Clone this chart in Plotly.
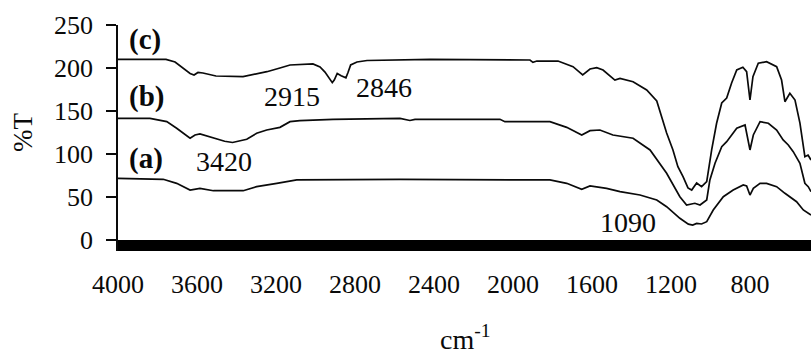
import plotly.graph_objects as go

# FTIR transmittance spectra, curves (a), (b), (c) offset vertically
wn_a = [4000, 3771, 3703, 3635, 3585, 3517, 3366, 3298, 3196, 3095, 2572, 1813, 1728,
        1652, 1610, 1526, 1458, 1357, 1272, 1222, 1155, 1112, 1090, 1070, 1045, 1019,
        986, 935, 885, 834, 817, 800, 783, 749, 716, 665, 623, 598, 564, 530, 491]
t_a = [71.7, 70.6, 65.9, 58.1, 60.1, 57.3, 57.3, 62.0, 65.9, 69.8, 70.6, 69.8, 65.9,
       59.0, 62.8, 60.1, 56.2, 52.3, 46.5, 38.7, 25.2, 18.5, 17.4, 19.2, 18.6, 21.3,
       34.9, 50.3, 58.1, 64.0, 62.8, 52.3, 60.1, 65.9, 65.9, 62.0, 54.3, 50.3, 44.5, 34.9, 29.1]

wn_b = [4000, 3838, 3753, 3703, 3635, 3610, 3585, 3519, 3460, 3420, 3348, 3298, 3247,
        3180, 3129, 3079, 2911, 2572, 2522, 2496, 2066, 2041, 1813, 1728, 1652, 1610,
        1560, 1494, 1392, 1306, 1222, 1155, 1121, 1079, 1053, 1019, 1003, 977, 943, 918,
        867, 825, 800, 783, 749, 707, 665, 632, 606, 581, 547, 522, 505, 491]
t_b = [141.5, 141.5, 137.6, 129.9, 118.3, 122.1, 123.3, 119.2, 114.8, 113.4, 117.1, 124.1, 127.9,
       131.0, 137.6, 138.7, 140.3, 141.5, 139.0, 140.3, 140.3, 137.6, 137.6, 131.0, 122.1, 127.1,
       127.9, 122.1, 118.3, 104.7, 77.6, 50.3, 40.7, 42.7, 40.7, 46.5, 69.8, 89.2, 108.5, 114.3,
       129.9, 133.7, 104.7, 122.1, 137.6, 135.7, 127.9, 116.3, 110.5, 102.7, 89.2, 65.9, 62.0, 56.2]

wn_c = [4000, 3757, 3711, 3676, 3635, 3615, 3595, 3570, 3534, 3504, 3367, 3306, 3246,
        3180, 3129, 3013, 2977, 2952, 2930, 2915, 2905, 2890, 2870, 2855, 2846, 2835,
        2822, 2790, 2739, 2420, 1914, 1899, 1879, 1772, 1696, 1647, 1610, 1576, 1544,
        1484, 1458, 1392, 1323, 1272, 1241, 1222, 1190, 1165, 1139, 1114, 1095, 1070,
        1045, 1019, 994, 969, 943, 918, 893, 867, 836, 817, 800, 785, 758, 716, 665,
        640, 623, 598, 572, 547, 522, 506, 491]
t_c = [210.1, 210.0, 207.0, 201.2, 193.6, 191.9, 194.8, 194.2, 191.9, 190.7, 189.9, 193.0, 195.7,
       200.0, 203.5, 204.7, 201.2, 195.3, 188.0, 183.0, 186.0, 193.6, 191.0, 189.0, 188.5, 195.0,
       203.5, 207.0, 208.7, 210.1, 209.3, 206.6, 208.1, 208.1, 201.5, 191.9, 198.8, 200.3, 197.7,
       186.0, 188.0, 184.0, 174.4, 161.6, 139.5, 124.4, 104.7, 85.2, 73.6, 60.5, 58.1, 66.3,
       62.0, 67.8, 104.7, 135.7, 159.3, 165.1, 182.6, 197.7, 200.8, 195.7, 162.8, 189.9, 205.5,
       207.3, 201.5, 186.0, 160.8, 170.6, 162.8, 136.0, 96.9, 98.8, 93.0]

x_ticks = [4000, 3600, 3200, 2800, 2400, 2000, 1600, 1200, 800]
y_ticks = [0, 50, 100, 150, 200, 250]

# curve tags and band labels: (text, wavenumber, %T)
curve_tags = [("(c)", 3955, 233.7), ("(b)", 3955, 166.3), ("(a)", 3955, 94.2)]
band_labels = [("3420", 3463, 90.7), ("2915", 3119, 166.3),
               ("2846", 2653, 177.9), ("1090", 1418, 19.8)]

FONT = "Liberation Serif"
INK = "#0a0a0a"

fig = go.Figure()
for wn, t in [(wn_a, t_a), (wn_b, t_b), (wn_c, t_c)]:
    fig.add_trace(go.Scatter(x=wn, y=t, mode="lines",
                             line=dict(color=INK, width=1.7),
                             showlegend=False, hoverinfo="skip"))

# heavy baseline under the spectra
fig.add_shape(type="rect", xref="x domain", yref="y",
              x0=0, x1=1, y0=-12.8, y1=0,
              fillcolor="black", line=dict(width=0), layer="above")

for txt, xv, yv in curve_tags:
    fig.add_annotation(x=xv, y=yv, text="<b>" + txt + "</b>", showarrow=False,
                       xanchor="left", yanchor="middle",
                       font=dict(family=FONT, size=29, color=INK))
for txt, xv, yv in band_labels:
    fig.add_annotation(x=xv, y=yv, text=txt, showarrow=False,
                       xanchor="center", yanchor="middle",
                       font=dict(family=FONT, size=28, color=INK))

# axis titles
fig.add_annotation(xref="paper", yref="paper", x=0.502, y=-0.468,
                   text="cm<sup>-1</sup>", showarrow=False,
                   xanchor="center", yanchor="bottom",
                   font=dict(family=FONT, size=28, color=INK))
fig.add_annotation(xref="paper", yref="paper", x=-0.137, y=0.522,
                   text="%T", textangle=-90, showarrow=False,
                   xanchor="center", yanchor="middle",
                   font=dict(family=FONT, size=27, color=INK))

fig.update_layout(
    width=811, height=357,
    margin=dict(l=118, r=0, t=25, b=106),
    paper_bgcolor="white", plot_bgcolor="white",
    font=dict(family=FONT, size=26, color=INK),
)
fig.update_xaxes(range=[4000, 491], tickvals=x_ticks,
                 ticks="outside", ticklen=0, ticklabelstandoff=10,
                 showgrid=False, zeroline=False, showline=False,
                 tickfont=dict(family=FONT, size=26, color=INK))
fig.update_yaxes(range=[-12.8, 250], tickvals=y_ticks,
                 ticks="outside", ticklen=10, tickwidth=1.5, tickcolor=INK,
                 ticklabelstandoff=8,
                 showgrid=False, zeroline=False,
                 showline=True, linewidth=1.5, linecolor=INK,
                 tickfont=dict(family=FONT, size=26, color=INK))

fig.write_html("out.html")
